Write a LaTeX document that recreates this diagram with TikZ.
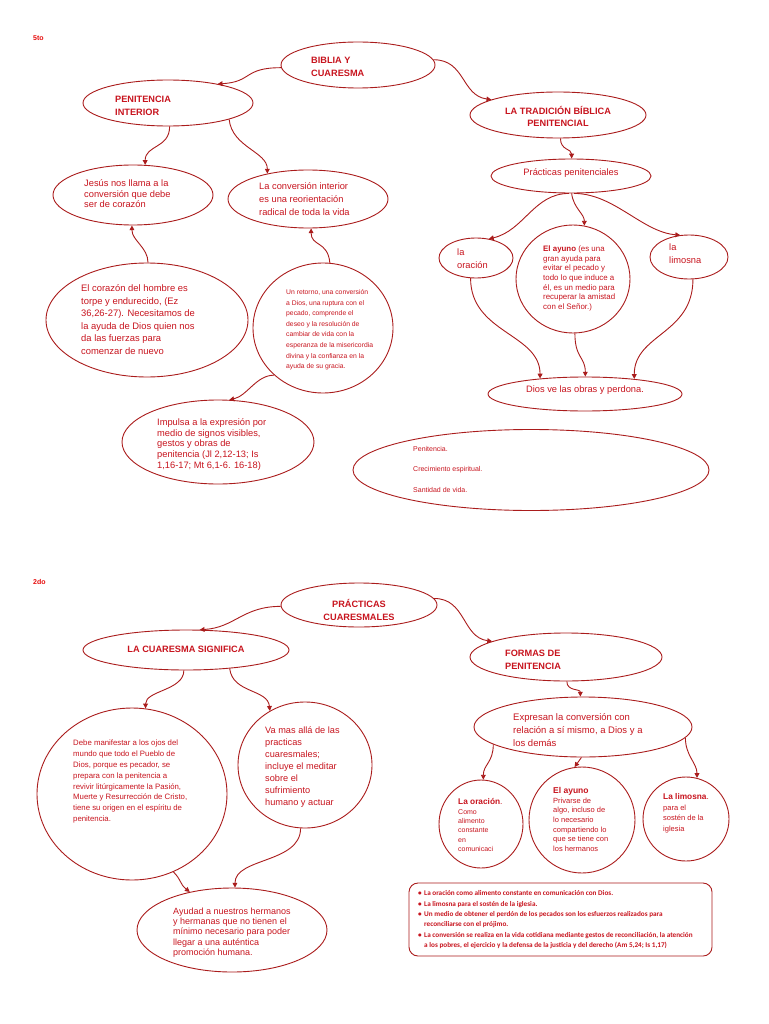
\documentclass[tikz,border=0pt]{standalone}
\usepackage{fontspec}
\setmainfont{Liberation Sans}
\newfontfamily\boxfont{Carlito}
\usetikzlibrary{shapes.geometric,arrows.meta}
\definecolor{lc}{RGB}{170,28,28}
\definecolor{tc}{RGB}{200,20,30}
\definecolor{hc}{RGB}{230,10,10}
\newcommand\myfs[2]{\fontsize{#1pt}{#2pt}\selectfont}
\begin{document}
\begin{tikzpicture}[x=1pt,y=-1pt,
  ell/.style={draw=lc, line width=0.9pt, ellipse, inner sep=0pt},
  con/.style={draw=lc, line width=0.9pt, -{Triangle[length=4.8pt,width=4.8pt]}},
  txt/.style={text=tc, inner sep=0pt, align=left, anchor=north west},
  ttl/.style={txt, font=\bfseries\myfs{9.2}{13}},
  body/.style={txt, font=\myfs{9.3}{12.5}}]
\useasboundingbox[fill=white] (0,0) rectangle (768,1024);

% ---------------- top section ----------------
\node[text=hc, inner sep=0pt, anchor=north west, font=\bfseries\myfs{7}{8}] (t5to) at (33,35) {5to};

\node[ell, minimum width=154pt, minimum height=46pt] (biblia) at (358,65) {};
\node[ttl, font=\bfseries\myfs{9.2}{12.5}] (bibliat) at (311,57) {BIBLIA Y\\CUARESMA};

\node[ell, minimum width=170pt, minimum height=46pt] (penit) at (168,103) {};
\node[ttl] (penitt) at (115,96) {PENITENCIA\\INTERIOR};

\node[ell, minimum width=176pt, minimum height=46pt] (trad) at (558,115) {};
\node[ttl, font=\bfseries\myfs{9.2}{12.5}, align=center, anchor=north] (tradt) at (558,106) {LA TRADICIÓN BÍBLICA\\PENITENCIAL};

\node[ell, minimum width=160pt, minimum height=34pt] (prac) at (571,176) {};
\node[text=tc, inner sep=0pt, font=\myfs{9.3}{12}] (pract) at (571,173) {Prácticas penitenciales};

\node[ell, minimum width=74pt, minimum height=40pt] (ora) at (476,258) {};
\node[body] (orat) at (457,249) {la\\oración};

\node[ell, minimum width=114pt, minimum height=108pt] (ayuno) at (573,279) {};
\node[txt, font=\myfs{7.9}{9.7}] (ayunot) at (543,245.5) {\textbf{El ayuno} (es una\\gran ayuda para\\evitar el pecado y\\todo lo que induce a\\él, es un medio para\\recuperar la amistad\\con el Señor.)};

\node[ell, minimum width=78pt, minimum height=44pt] (lim) at (689,257) {};
\node[body, font=\myfs{9.3}{13.5}] (limt) at (669,243.5) {la\\limosna};

\node[ell, minimum width=194pt, minimum height=34pt] (dios) at (585,394) {};
\node[text=tc, inner sep=0pt, font=\myfs{9.3}{12}] (diost) at (585,390) {Dios ve las obras y perdona.};

\node[ell, minimum width=356pt, minimum height=81pt] (big) at (531,470) {};
\node[txt, font=\myfs{7}{20.5}] (bigt) at (413,446) {Penitencia.\\Crecimiento espiritual.\\Santidad de vida.};

\node[ell, minimum width=160pt, minimum height=60pt] (jesus) at (133,195) {};
\node[body, font=\myfs{9.3}{10.5}] (jesust) at (84,179.5) {Jesús nos llama a la\\conversión que debe\\ser de corazón};

\node[ell, minimum width=160pt, minimum height=58pt] (conv) at (308,199) {};
\node[body, font=\myfs{9.3}{13}] (convt) at (259,182.5) {La conversión interior\\es una reorientación\\radical de toda la vida};

\node[ell, minimum width=202pt, minimum height=114pt] (corazon) at (147,320) {};
\node[body, font=\myfs{9.4}{12.6}] (corazont) at (81,284.3) {El corazón del hombre es\\torpe y endurecido, (Ez\\36,26-27). Necesitamos de\\la ayuda de Dios quien nos\\da las fuerzas para\\comenzar de nuevo};

\node[ell, minimum width=140pt, minimum height=130pt] (retorno) at (323,328) {};
\node[txt, font=\myfs{6.8}{10.6}] (retornot) at (286,289.3) {Un retorno, una conversión\\a Dios, una ruptura con el\\pecado, comprende el\\deseo y la resolución de\\cambiar de vida con la\\esperanza de la misericordia\\divina y la confianza en la\\ayuda de su gracia.};

\node[ell, minimum width=192pt, minimum height=84pt] (impulsa) at (218,442) {};
\node[body, font=\myfs{9.3}{10.8}] (impulsat) at (157,418.3) {Impulsa a la expresión por\\medio de signos visibles,\\gestos y obras de\\penitencia (Jl 2,12-13; Is\\1,16-17; Mt 6,1-6. 16-18)};

\draw[con] (biblia.182) .. controls +(-38,0) and +(35,-2) .. (penit.21);
\draw[con] (biblia.4) .. controls +(32,0) and +(-30,-4) .. (trad.167);
\draw[con] (trad.-84) .. controls +(0,12) and +(0,-10) .. (prac.88);
\draw[con] (prac.-97) .. controls +(-35,0) and +(35,-8) .. (ora.56);
\draw[con] (prac.-88) .. controls +(2,15) and +(0,-12) .. (ayuno.78);
\draw[con] (prac.-80) .. controls +(40,0) and +(-38,-3) .. (lim.112);
\draw[con] (ora.-105) .. controls +(0,55) and +(0,-45) .. (dios.161);
\draw[con] (ayuno.-88) .. controls +(0,25) and +(0,-20) .. (dios.89);
\draw[con] (lim.-80) .. controls +(0,55) and +(0,-45) .. (dios.17);
\draw[con] (penit.-86) .. controls +(0,22) and +(0,-20) .. (jesus.68);
\draw[con] (penit.-15) .. controls +(3,28) and +(0,-22) .. (conv.148);
\draw[con] (corazon.89) .. controls +(0,-15) and +(0,15) .. (jesus.-92);
\draw[con] (retorno.84) .. controls +(-2,-22) and +(0,18) .. (conv.-84);
\draw[con] (retorno.-136) .. controls +(-18,0) and +(18,-4) .. (impulsa.75);

% ---------------- bottom section ----------------
\node[text=hc, inner sep=0pt, anchor=north west, font=\bfseries\myfs{7}{8}] (t2do) at (33,579) {2do};

\node[ell, minimum width=156pt, minimum height=44pt] (prac2) at (359,605) {};
\begin{scope}
\clip (280,585) rectangle (440,619);
\node[ttl, align=center, anchor=north] (prac2t) at (359,599) {PRÁCTICAS\\CUARESMALES};
\end{scope}

\node[ell, minimum width=206pt, minimum height=40pt] (cuar) at (186,650) {};
\node[text=tc, inner sep=0pt, font=\bfseries\myfs{9.2}{12}] (cuart) at (186,649) {LA CUARESMA SIGNIFICA};

\node[ell, minimum width=192pt, minimum height=48pt] (formas) at (566,657) {};
\node[ttl] (formast) at (505,650.3) {FORMAS DE\\PENITENCIA};

\node[ell, minimum width=218pt, minimum height=60pt] (expr) at (583,727) {};
\node[body, font=\myfs{9.5}{13}] (exprt) at (513,713.3) {Expresan la conversión con\\relación a sí mismo, a Dios y a\\los demás};

\node[ell, minimum width=84pt, minimum height=88pt] (ora2) at (481,824) {};
\node[txt, font=\myfs{7}{9.4}] (ora2t) at (458,798.5) {{\myfs{8.3}{9.6}\textbf{La oración}.}\\Como\\alimento\\constante\\en\\comunicaci};

\node[ell, minimum width=106pt, minimum height=106pt] (ayu2) at (582,820) {};
\node[txt, font=\myfs{7.5}{9.6}] (ayu2t) at (553,787.3) {{\myfs{8.5}{9.8}\textbf{El ayuno}}\\Privarse de\\algo, incluso de\\lo necesario\\compartiendo lo\\que se tiene con\\los hermanos};

\node[ell, minimum width=86pt, minimum height=84pt] (lim2) at (686,819) {};
\node[txt, font=\myfs{7.5}{10.6}] (lim2t) at (663,793.5) {{\myfs{8.3}{10.6}\textbf{La limosna}.}\\para el\\sostén de la\\iglesia};

\node[ell, minimum width=190pt, minimum height=172pt] (debe) at (132,794) {};
\node[txt, font=\myfs{7.8}{10.8}] (debet) at (73,740) {Debe manifestar a los ojos del\\mundo que todo el Pueblo de\\Dios, porque es pecador, se\\prepara con la penitencia a\\revivir litúrgicamente la Pasión,\\Muerte y Resurrección de Cristo,\\tiene su origen en el espíritu de\\penitencia.};

\node[ell, minimum width=134pt, minimum height=126pt] (va) at (305,765) {};
\node[body, font=\myfs{9.2}{12}] (vat) at (265,726.3) {Va mas allá de las\\practicas\\cuaresmales;\\incluye el meditar\\sobre el\\sufrimiento\\humano y actuar};

\node[ell, minimum width=190pt, minimum height=84pt] (ayud) at (232,930) {};
\node[body, font=\myfs{9}{10.3}] (ayudt) at (173,907.4) {Ayudad a nuestros hermanos\\y hermanas que no tienen el\\mínimo necesario para poder\\llegar a una auténtica\\promoción humana.};

\node[draw=lc, line width=0.9pt, rounded corners=9pt, minimum width=303pt, minimum height=73pt, inner sep=0pt] (box) at (560.5,919.5) {};
\node[txt, font=\boxfont\bfseries\myfs{7.2}{10.4}] (boxt) at (418,890.5) {\makebox[6pt][l]{•}La oración como alimento constante en comunicación con Dios.\\\makebox[6pt][l]{•}La limosna para el sostén de la iglesia.\\\makebox[6pt][l]{•}Un medio de obtener el perdón de los pecados son los esfuerzos realizados para\\\hspace*{6pt}reconciliarse con el prójimo.\\\makebox[6pt][l]{•}La conversión se realiza en la vida cotidiana mediante gestos de reconciliación, la atención\\\hspace*{6pt}a los pobres, el ejercicio y la defensa de la justicia y del derecho (Am 5,24; Is 1,17)};

\draw[con] (prac2.181) .. controls +(-38,0) and +(35,-2) .. (cuar.56);
\draw[con] (prac2.5) .. controls +(32,0) and +(-30,-4) .. (formas.168);
\draw[con] (formas.-88) .. controls +(0,10) and +(0,-8) .. (expr.95);
\draw[con] (expr.-169) .. controls +(0,18) and +(0,-15) .. (ora2.87);
\draw[con] (expr.-93) -- (ayu2.98);
\draw[con] (expr.-6) .. controls +(0,18) and +(0,-15) .. (lim2.75);
\draw[con] (cuar.-96) .. controls +(0,20) and +(0,-18) .. (debe.81);
\draw[con] (cuar.-23) .. controls +(3,25) and +(-2,-22) .. (va.123);
\draw[con] (debe.-62) .. controls +(8,8) and +(-10,-8) .. (ayud.138);
\draw[con] (va.-94) .. controls +(0,35) and +(0,-30) .. (ayud.86);
\end{tikzpicture}
\end{document}
